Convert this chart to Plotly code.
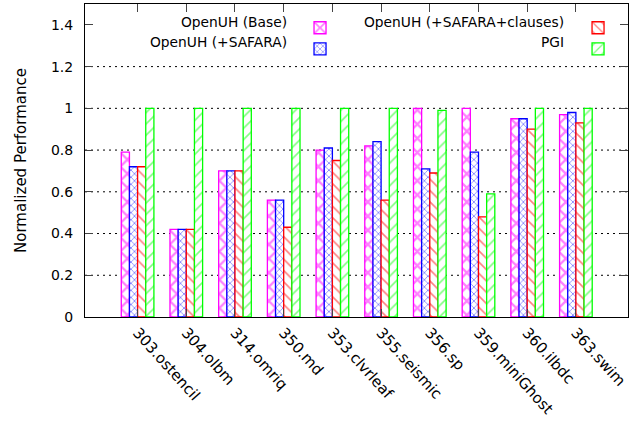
import plotly.graph_objects as go

benchmarks = ["303.ostencil", "304.olbm", "314.omriq", "350.md", "353.clvrleaf",
              "355.seismic", "356.sp", "359.miniGhost", "360.ilbdc", "363.swim"]
openuh_base = [0.79, 0.42, 0.70, 0.56, 0.80, 0.82, 1.00, 1.00, 0.95, 0.97]
openuh_safara = [0.72, 0.42, 0.70, 0.56, 0.81, 0.84, 0.71, 0.79, 0.95, 0.98]
openuh_safara_clauses = [0.72, 0.42, 0.70, 0.43, 0.75, 0.56, 0.69, 0.48, 0.90, 0.93]
pgi = [1.00, 1.00, 1.00, 1.00, 1.00, 1.00, 0.99, 0.59, 1.00, 1.00]

series_names = ["OpenUH (Base)", "OpenUH (+SAFARA)", "OpenUH (+SAFARA+clauses)", "PGI"]
series_values = [openuh_base, openuh_safara, openuh_safara_clauses, pgi]
series_colors = ["#ff00ff", "#0000ff", "#ff0000", "#00ff00"]
series_shapes = ["x", "x", "\\", "/"]
series_sizes = [10, 5, 8, 8]
series_solidity = [0.4, 0.3, 0.2, 0.2]
series_legend = ["legend", "legend", "legend2", "legend2"]
grid_y = [0.2, 0.4, 0.6, 0.8, 1.0, 1.2]

FONT = "DejaVu Sans"
fig = go.Figure()
for name, vals, col, shp, sz, sol, lg in zip(series_names, series_values, series_colors,
                                             series_shapes, series_sizes, series_solidity,
                                             series_legend):
    fig.add_trace(go.Bar(
        x=benchmarks, y=vals, name=" ", legend=lg,
        marker=dict(color="white", line=dict(color=col, width=1.3),
                    pattern=dict(shape=shp, fgcolor=col, bgcolor="white",
                                 size=sz, solidity=sol)),
    ))

for gy in grid_y:
    fig.add_shape(type="line", xref="paper", x0=0, x1=1, yref="y", y0=gy, y1=gy,
                  line=dict(color="black", width=1, dash="2px,4px"), layer="below")

# legend labels (right-aligned text left of swatch, as in the original)
label_pos = [(0.3757, 0.9425), (0.3757, 0.879), (0.8858, 0.9425), (0.8858, 0.879)]
for name, (lx, ly) in zip(series_names, label_pos):
    fig.add_annotation(text=name, xref="paper", yref="paper", x=lx, y=ly,
                       xanchor="right", yanchor="middle", showarrow=False,
                       font=dict(family=FONT, size=13.8, color="black"))

fig.update_layout(
    width=631, height=421,
    margin=dict(l=85, r=3, t=4, b=104, autoexpand=False),
    paper_bgcolor="white", plot_bgcolor="white",
    barmode="group", bargap=0.33, bargroupgap=0,
    font=dict(family=FONT, size=14, color="black"),
    showlegend=True,
    legend=dict(x=0.396, y=0.974, xanchor="left", yanchor="top",
                bgcolor="rgba(0,0,0,0)", font=dict(size=14)),
    legend2=dict(x=0.908, y=0.974, xanchor="left", yanchor="top",
                 bgcolor="rgba(0,0,0,0)", font=dict(size=14)),
    xaxis=dict(range=[-1.08, 10.07], tickangle=48, ticks="inside", ticklen=8,
               showline=True, linecolor="black", linewidth=1, mirror="ticks",
               showgrid=False, tickfont=dict(size=15), automargin=False),
    yaxis=dict(range=[0, 1.5], tickvals=[0, 0.2, 0.4, 0.6, 0.8, 1.0, 1.2, 1.4],
               ticks="inside", ticklen=8, showline=True, linecolor="black",
               linewidth=1, mirror="ticks", showgrid=False, zeroline=False,
               title=dict(text="Normalized Performance", font=dict(size=15), standoff=20),
               tickfont=dict(size=14), ticklabelstandoff=8, automargin=False),
)

fig.write_html("out.html", config={"displayModeBar": False},
               post_script="document.body.style.margin='0';document.body.style.overflow='hidden';")
